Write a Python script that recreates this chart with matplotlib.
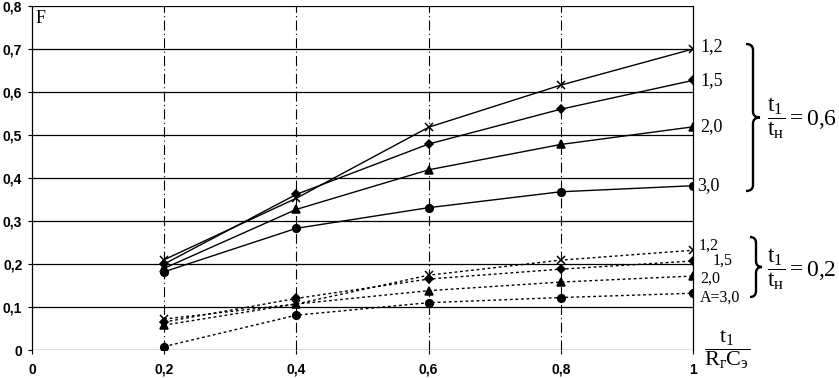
import matplotlib
matplotlib.use("Agg")
import matplotlib.pyplot as plt
from matplotlib.path import Path
from matplotlib.patches import PathPatch

plt.rcParams['mathtext.fontset'] = 'custom'
plt.rcParams['mathtext.rm'] = 'Liberation Serif'
plt.rcParams['mathtext.it'] = 'Liberation Serif:italic'
plt.rcParams['mathtext.bf'] = 'Liberation Serif:bold'

# x = t1 / (Rг Cэ)
x = [0.2, 0.4, 0.6, 0.8, 1.0]

# t1/tн = 0,6 (solid lines)
f06_a12 = [0.21, 0.353, 0.518, 0.616, 0.70]
f06_a15 = [0.20, 0.362, 0.479, 0.560, 0.627]
f06_a20 = [0.19, 0.327, 0.419, 0.478, 0.519]
f06_a30 = [0.182, 0.283, 0.331, 0.368, 0.382]

# t1/tн = 0,2 (dotted lines)
f02_a12 = [0.072, 0.107, 0.174, 0.209, 0.232]
f02_a15 = [0.065, 0.12, 0.165, 0.188, 0.207]
f02_a20 = [0.058, 0.107, 0.138, 0.158, 0.172]
f02_a30 = [0.008, 0.081, 0.11, 0.122, 0.132]

labels_a = ['1,2', '1,5', '2,0', '3,0']
low_labels = ['1,2', '1,5', '2,0', 'A=3,0']
markers = ['x', 'D', '^', 'o']
xticks = [0, 0.2, 0.4, 0.6, 0.8, 1.0]
xtick_labels = ['0', '0,2', '0,4', '0,6', '0,8', '1']
yticks = [0, 0.1, 0.2, 0.3, 0.4, 0.5, 0.6, 0.7, 0.8]
ytick_labels = ['0', '0,1', '0,2', '0,3', '0,4', '0,5', '0,6', '0,7', '0,8']

fig = plt.figure(figsize=(8.39, 3.78), dpi=100)
ax = fig.add_axes([32 / 839, 28 / 378, 661 / 839, 344 / 378])
ax.set_xlim(0, 1)
ax.set_ylim(0, 0.8)

# grid
for yv in yticks:
    ax.axhline(yv, color='black', lw=0.9, zorder=1)
for xv in xticks[1:-1]:
    ax.axvline(xv, color='black', lw=0.8, ls=(0, (9, 3, 1, 3)), zorder=1)

for s in ['top', 'bottom']:
    ax.spines[s].set_visible(False)
ax.spines['left'].set_linewidth(0.9)
ax.spines['right'].set_linewidth(0.9)

solid = [f06_a12, f06_a15, f06_a20, f06_a30]
dotted = [f02_a12, f02_a15, f02_a20, f02_a30]
msizes = [6, 4.5, 5.5, 5.5]
for ys, m, ms in zip(solid, markers, msizes):
    ax.plot(x, ys, color='black', lw=1.0, marker=m, ms=ms, mew=1.1, zorder=3)
for ys, m, ms in zip(dotted, markers, msizes):
    ax.plot(x, ys, color='black', lw=1.0, ls=(0, (2, 2)), marker=m, ms=ms, mew=1.1, zorder=3)

ax.set_xticks(xticks)
ax.set_xticklabels(xtick_labels, fontsize=10, family='Liberation Sans', weight='bold')
ax.set_yticks(yticks)
ax.set_yticklabels(ytick_labels, fontsize=10, family='Liberation Sans', weight='bold')
ax.tick_params(direction='out', length=3, width=0.8, pad=4)
ax.tick_params(axis='x', pad=6)

ax.text(0.005, 0.79, 'F', fontsize=13, family='Liberation Serif', va='top', ha='left')

# series labels at the right end
up_off = [(5, 1.5), (5, 0), (5, 0), (3, 0)]
for ys, lab, off in zip(solid, labels_a, up_off):
    ax.annotate(lab, xy=(1, ys[-1]), xytext=off, textcoords='offset points',
                fontsize=13, family='Liberation Serif', va='center', ha='left',
                annotation_clip=False)
low_off = [(4, 3), (14, 0), (5, -2), (5, -3)]
for ys, lab, off in zip(dotted, low_labels, low_off):
    ax.annotate(lab, xy=(1, ys[-1]), xytext=off, textcoords='offset points',
                fontsize=11.5, family='Liberation Serif', va='center', ha='left',
                annotation_clip=False)


def brace(y_top, y_bot, x_left, x_mid, x_tip):
    # curly brace pointing right, pixel coords of the image (y from top)
    H = 378.0
    W = 839.0
    ym = (y_top + y_bot) / 2.0
    r = 6.0
    pts = [(x_left, y_top), (x_mid, y_top), (x_mid, y_top + r),
           (x_mid, ym - r),
           (x_mid, ym), (x_tip, ym),
           (x_mid, ym), (x_mid, ym + r),
           (x_mid, y_bot - r),
           (x_mid, y_bot), (x_left, y_bot)]
    codes = [Path.MOVETO, Path.CURVE3, Path.CURVE3, Path.LINETO,
             Path.CURVE3, Path.CURVE3, Path.CURVE3, Path.CURVE3,
             Path.LINETO, Path.CURVE3, Path.CURVE3]
    verts = [(px / W, 1 - py / H) for px, py in pts]
    fig.add_artist(PathPatch(Path(verts, codes), fill=False, lw=1.7,
                             edgecolor='black', transform=fig.transFigure))


brace(44, 191, 746, 753, 760)
brace(237, 297, 750, 756, 762)

fig.text(767 / 839, 1 - 118 / 378, r'$\dfrac{\mathrm{t}_\mathrm{1}}{\mathrm{t}_\mathrm{н}}=0{,}6$',
         fontsize=17, va='center', ha='left')
fig.text(767 / 839, 1 - 269 / 378, r'$\dfrac{\mathrm{t}_\mathrm{1}}{\mathrm{t}_\mathrm{н}}=0{,}2$',
         fontsize=17, va='center', ha='left')
fig.text(727 / 839, 1 - 350 / 378, r'$\dfrac{\mathrm{t}_\mathrm{1}}{\mathrm{R}_\mathrm{г}\mathrm{C}_\mathrm{э}}$',
         fontsize=16, va='center', ha='center')

fig.savefig('out.png', dpi=100)
